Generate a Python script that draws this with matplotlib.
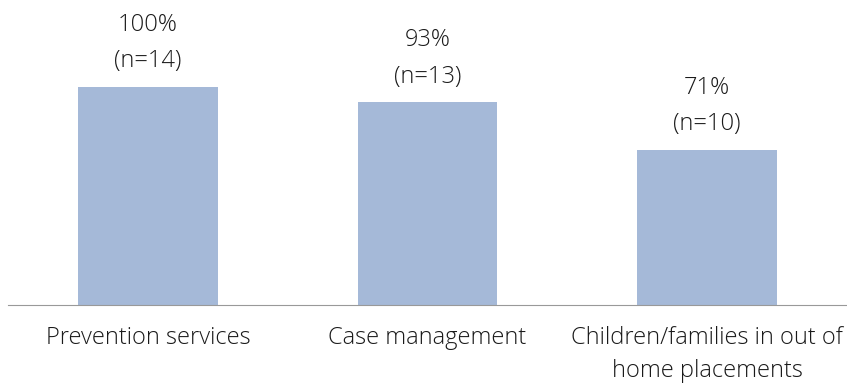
import matplotlib.pyplot as plt

# chart data
categories = ['Prevention services', 'Case management', 'Children/families in out of\nhome placements']
percent = [100, 93, 71]
counts = [14, 13, 10]

plt.rcParams['font.family'] = ['Open Sans', 'DejaVu Sans']

fig = plt.figure(figsize=(8.47, 3.83), dpi=100)
ax = fig.add_axes([8 / 847, 78 / 383, 1 - 8 / 847, 1 - 78 / 383])

x = range(len(categories))
ax.bar(x, percent, width=0.5, color='#A5B9D8')

# value labels above the bars
for xi, p, n in zip(x, percent, counts):
    ax.annotate('%d%%\n(n=%d)' % (p, n), (xi, p), xytext=(0, 10), textcoords='offset points',
                ha='center', va='bottom', fontsize=17, color='#1a1a1a', linespacing=1.7,
                fontweight='light')

ax.set_xlim(-0.5, 2.5)
ax.set_ylim(0, 140)
ax.set_xticks(list(x))
ax.set_xticklabels(categories, fontsize=17, color='#1a1a1a', linespacing=1.5, fontweight='light')
ax.tick_params(axis='x', length=0, pad=15)
ax.set_yticks([])

for s in ['top', 'right', 'left']:
    ax.spines[s].set_visible(False)
ax.spines['bottom'].set_color('#999999')

fig.savefig('out.png', dpi=100)
